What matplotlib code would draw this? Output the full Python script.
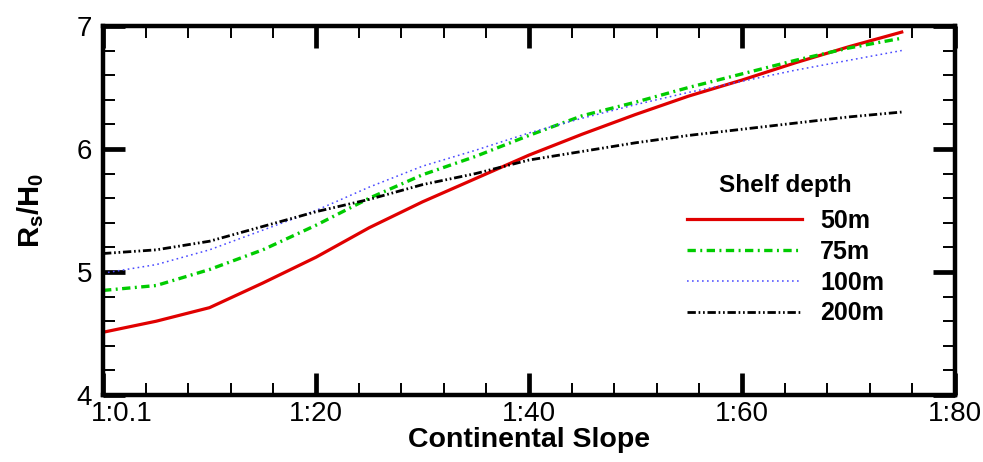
import matplotlib
matplotlib.use("Agg")
import matplotlib.pyplot as plt
from matplotlib.ticker import MultipleLocator, FixedLocator, FixedFormatter
from matplotlib.transforms import ScaledTranslation

plt.rcParams["font.family"] = ["Liberation Sans", "DejaVu Sans"]
plt.rcParams["mathtext.fontset"] = "custom"
plt.rcParams["mathtext.rm"] = "Liberation Sans"
plt.rcParams["mathtext.bf"] = "Liberation Sans:bold"
plt.rcParams["lines.scale_dashes"] = False

# continental slope (1:x) and run-up ratio Rs/H0 for each shelf depth
slope = [0, 5, 10, 15, 20, 25, 30, 35, 40, 45, 50, 55, 60, 65, 70, 75]
rs_50m = [4.51, 4.60, 4.71, 4.91, 5.12, 5.36, 5.57, 5.76, 5.95, 6.12, 6.28, 6.43, 6.56, 6.70, 6.83, 6.95]
rs_75m = [4.85, 4.89, 5.02, 5.18, 5.38, 5.60, 5.79, 5.94, 6.11, 6.27, 6.38, 6.50, 6.61, 6.72, 6.82, 6.90]
rs_100m = [4.99, 5.06, 5.18, 5.34, 5.50, 5.69, 5.86, 5.99, 6.13, 6.25, 6.36, 6.46, 6.55, 6.64, 6.72, 6.80]
rs_200m = [5.15, 5.18, 5.25, 5.37, 5.49, 5.59, 5.71, 5.80, 5.91, 5.98, 6.05, 6.11, 6.16, 6.21, 6.26, 6.30]

xtick_pos = [0, 20, 40, 60, 80]
xtick_labels = ["1:0.1", "1:20", "1:40", "1:60", "1:80"]
depth_labels = ["50m", "75m", "100m", "200m"]

fig = plt.figure(figsize=(9.83, 4.62), dpi=100)
ax = fig.add_axes([0.1048, 0.145, 0.8667, 0.7989])

ax.plot(slope, rs_50m, color="#e00000", lw=2.3, ls="-", label=depth_labels[0])
ax.plot(slope, rs_75m, color="#00cc00", lw=2.4, ls=(0, (6, 3.2, 1.4, 3.2)), label=depth_labels[1])
ax.plot(slope, rs_100m, color="#4a4aff", lw=1.1, ls=(0, (1.2, 2.4)), label=depth_labels[2])
ax.plot(slope, rs_200m, color="black", lw=2.0, ls=(0, (6, 2, 1.2, 2, 1.2, 2)), label=depth_labels[3])

ax.set_xlim(0, 80)
ax.set_ylim(4, 7)
ax.minorticks_on()
ax.xaxis.set_major_locator(FixedLocator(xtick_pos))
ax.xaxis.set_major_formatter(FixedFormatter(xtick_labels))
ax.xaxis.set_minor_locator(MultipleLocator(4))
ax.yaxis.set_major_locator(MultipleLocator(1))
ax.yaxis.set_minor_locator(MultipleLocator(0.2))

ax.tick_params(which="both", direction="in", top=True, right=True, labelsize=20, color="black")
ax.tick_params(which="major", length=16, width=3.4)
ax.tick_params(which="minor", length=8.5, width=1.4)
ax.tick_params(axis="x", which="major", pad=4)
ax.tick_params(axis="y", which="major", pad=8)
for sp in ax.spines.values():
    sp.set_linewidth(3.2)

# first slope label sits just right of the axis corner
first = ax.get_xticklabels()[0]
first.set_transform(first.get_transform() + ScaledTranslation(0.19, 0, fig.dpi_scale_trans))

ax.set_xlabel("Continental Slope", fontsize=20.5, fontweight="bold", labelpad=0)
ax.set_ylabel(r"$\mathbf{R_s/H_0}$", fontsize=21, labelpad=22)

leg = ax.legend(loc="upper left", bbox_to_anchor=(0.685, 0.60), frameon=False,
                title="Shelf depth", handlelength=4.6, handletextpad=0.75,
                labelspacing=0.27, borderpad=0, borderaxespad=0,
                prop={"size": 18, "weight": "bold"},
                title_fontproperties={"size": 17.5, "weight": "bold"})
leg._legend_box.sep = 9

fig.savefig("out.png", dpi=100)
